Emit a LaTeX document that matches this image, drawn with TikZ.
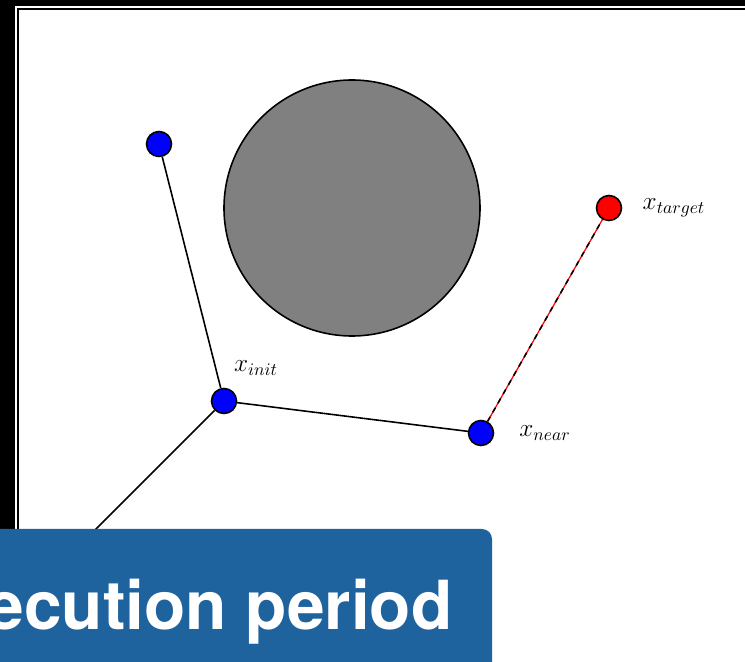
\documentclass[tikz,border=0pt]{standalone}
\usepackage{fontspec}
\newfontfamily\bannerfont{TeX Gyre Heros}
\definecolor{bannerblue}{RGB}{31,99,158}
\begin{document}
\begin{tikzpicture}[x=0.02cm, y=-0.02cm,
    vertex/.style={circle, draw=black, line width=0.9pt, fill=blue, minimum size=0.5cm, inner sep=0pt},
    goal/.style={vertex, fill=red},
    edge/.style={line width=0.9pt},
    lbl/.style={font=\fontsize{14}{16}\selectfont}]
  \useasboundingbox (0,0) rectangle (745,662);
  \fill[black] (0,0) rectangle (745,662);
  \draw[white, line width=0.7pt] (16,7) rectangle (770,700);
  \fill[white] (19,10) rectangle (745,662);
  % obstacle
  \draw[line width=0.9pt, fill=gray] (352,208) circle (128);
  % tree
  \coordinate (lost) at (40,585);
  \node[vertex] (leaf) at (159,144) {};
  \node[vertex] (init) at (224,401) {};
  \node[vertex] (near) at (481,433) {};
  \node[goal] (target) at (609,208) {};
  \draw[edge] (init) -- (leaf);
  \draw[edge] (init) -- (near);
  \draw[edge] (init) -- (lost);
  \draw[red, line width=0.7pt] (near) -- (target);
  \draw[edge, dashed] (near) -- (target);
  \node[lbl] at (256,368) {$x_{init}$};
  \node[lbl] at (545,433) {$x_{near}$};
  \node[lbl] at (674,208) {$x_{target}$};
  % banner
  \fill[bannerblue, rounded corners=0.2cm] (-20,529) rectangle (492,700);
  \node[anchor=base east, text=white, font=\bannerfont\bfseries\fontsize{38.5}{42}\selectfont, inner sep=0pt] (banner) at (453,630) {ecution period};
\end{tikzpicture}
\end{document}
